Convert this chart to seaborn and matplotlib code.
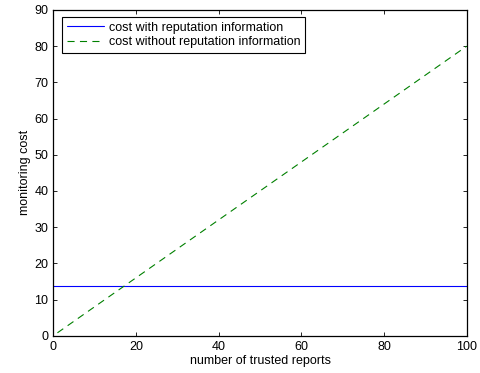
import matplotlib
matplotlib.use("Agg")
import matplotlib.pyplot as plt
import seaborn as sns
import pandas as pd

# Data
x_with = [0, 100]
cost_with = [13.6, 13.6]
x_without = [1, 100]
cost_without = [0.8, 80.0]
label_with = "cost with reputation information"
label_without = "cost without reputation information"
x_ticks = [0, 20, 40, 60, 80, 100]
y_ticks = [0, 10, 20, 30, 40, 50, 60, 70, 80, 90]

sns.set_style("white")
plt.rcParams['font.family'] = ['Liberation Sans', 'DejaVu Sans']
plt.rcParams['text.color'] = 'black'
plt.rcParams['axes.labelcolor'] = 'black'
plt.rcParams['xtick.color'] = 'black'
plt.rcParams['ytick.color'] = 'black'

df_with = pd.DataFrame({"x": x_with, "y": cost_with})
df_without = pd.DataFrame({"x": x_without, "y": cost_without})

fig = plt.figure(figsize=(4.81, 3.73), dpi=100)
ax = fig.add_axes([0.1108, 0.100, 0.8595, 0.8732])

sns.lineplot(data=df_with, x="x", y="y", ax=ax, color="#0000ff", linewidth=0.8, label=label_with)
sns.lineplot(data=df_without, x="x", y="y", ax=ax, color="#008000", linewidth=0.8,
             linestyle=(0, (6.4, 4.8)), label=label_without)

ax.set_xlim(0, 100)
ax.set_ylim(0, 90)
ax.set_xticks(x_ticks)
ax.set_yticks(y_ticks)
ax.set_xlabel("number of trusted reports", fontsize=9, labelpad=2)
ax.set_ylabel("monitoring cost", fontsize=9, labelpad=2.5)
ax.tick_params(direction="in", top=True, right=True, bottom=True, left=True,
               labelsize=9, length=3.2, width=0.6, pad=3.5, color="black", labelcolor="black")
for s in ax.spines.values():
    s.set_color("black")
    s.set_linewidth(0.9)

leg = ax.legend(loc="upper left", bbox_to_anchor=(0.0203, 0.979), borderaxespad=0,
                fontsize=9, frameon=True, fancybox=False,
                edgecolor="black", framealpha=1, borderpad=0.4, labelspacing=0.2,
                handlelength=3.0, handletextpad=0.35)
leg.get_frame().set_linewidth(0.8)

fig.savefig("out.png", dpi=100)
